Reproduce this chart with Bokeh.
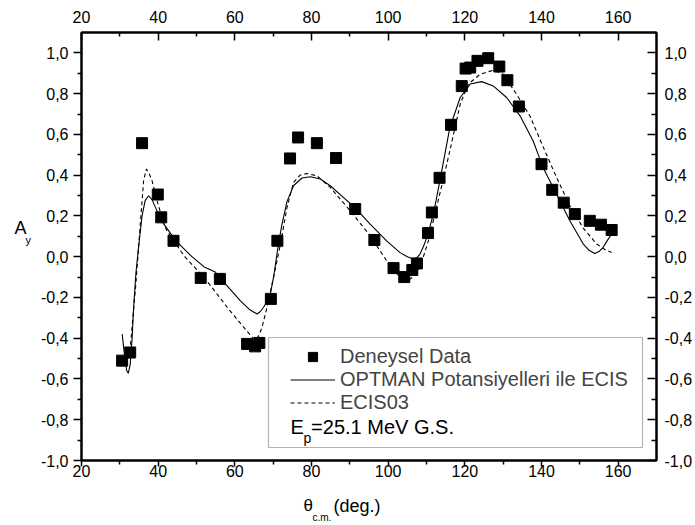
from bokeh.plotting import figure
from bokeh.models import (Range1d, LinearAxis, FixedTicker, CustomJSTickFormatter,
                          Legend, LegendItem, BoxAnnotation, Label)
from bokeh.layouts import row, column
from bokeh.embed import file_html
from bokeh.resources import INLINE

# ---------------- data ----------------
exp_x = [30.6, 32.7, 35.8, 39.9, 40.8, 44.0, 51.1, 56.1, 63.2, 65.3, 66.4, 69.4,
         71.1, 74.4, 76.5, 81.4, 86.4, 91.4, 96.4, 101.4, 104.2, 106.3, 107.5,
         110.4, 111.4, 113.4, 116.4, 119.2, 120.2, 121.4, 123.3, 126.1, 129.0,
         131.1, 134.1, 140.0, 142.8, 145.8, 148.7, 152.6, 155.5, 158.3]
exp_y = [-0.51, -0.47, 0.557, 0.305, 0.193, 0.078, -0.104, -0.109, -0.428, -0.44,
         -0.423, -0.207, 0.078, 0.482, 0.585, 0.557, 0.484, 0.234, 0.082, -0.056,
         -0.10, -0.065, -0.033, 0.116, 0.217, 0.387, 0.647, 0.837, 0.923, 0.928,
         0.961, 0.974, 0.933, 0.866, 0.737, 0.454, 0.328, 0.265, 0.209, 0.176,
         0.157, 0.131]

optman_x = [30.6, 31.2, 31.8, 32.2, 32.7, 33.2, 33.6, 34.2, 34.9, 35.8, 36.6, 37.5,
            38.4, 39.3, 40.5, 41.5, 44.5, 48.8, 52.0, 54.9, 56.2, 58.8, 61.4, 64.0,
            65.8, 66.6, 67.5, 68.4, 69.2, 70.2, 71.2, 72.2, 73.6, 75.3, 77.5, 79.7,
            82.3, 84.9, 88.3, 91.4, 95.3, 99.6, 103.1, 105.0, 106.6, 107.5, 108.3,
            109.2, 110.1, 111.8, 113.5, 116.1, 118.8, 121.4, 124.4, 127.4, 130.9,
            134.4, 137.8, 140.4, 143.9, 147.4, 150.9, 152.5, 153.9, 155.0, 156.1,
            157.2, 158.3]
optman_y = [-0.38, -0.48, -0.56, -0.572, -0.53, -0.40, -0.25, -0.08, 0.05, 0.20,
            0.275, 0.299, 0.28, 0.242, 0.19, 0.16, 0.08, 0.0, -0.05, -0.075, -0.105,
            -0.16, -0.216, -0.262, -0.281, -0.27, -0.248, -0.22, -0.19, -0.09, 0.04,
            0.15, 0.27, 0.348, 0.386, 0.392, 0.381, 0.348, 0.291, 0.239, 0.16, 0.078,
            0.02, 0.0, -0.011, -0.005, 0.013, 0.05, 0.095, 0.209, 0.373, 0.634, 0.781,
            0.847, 0.859, 0.838, 0.781, 0.691, 0.569, 0.438, 0.307, 0.176, 0.062,
            0.03, 0.016, 0.025, 0.046, 0.08, 0.111]

ecis_x = [32.3, 32.8, 33.4, 34.1, 34.8, 35.4, 36.2, 36.9, 37.6, 38.4, 39.7, 41.5,
          42.3, 45.8, 47.1, 51.9, 54.0, 58.0, 62.3, 64.3, 65.3, 66.2, 67.1, 68.4,
          70.1, 71.9, 73.6, 75.3, 77.0, 78.8, 81.4, 84.9, 90.1, 95.3, 99.6, 101.4,
          103.5, 105.3, 106.8, 108.3, 110.5, 112.2, 114.0, 116.1, 118.8, 120.9,
          124.0, 127.4, 130.0, 133.5, 137.0, 140.4, 143.9, 147.4, 150.9, 154.4,
          156.5, 158.3]
ecis_y = [-0.50, -0.43, -0.30, -0.15, 0.02, 0.176, 0.373, 0.43, 0.41, 0.373, 0.275,
          0.16, 0.127, 0.03, -0.003, -0.101, -0.15, -0.248, -0.346, -0.39, -0.41,
          -0.39, -0.346, -0.248, -0.101, 0.062, 0.24, 0.364, 0.40, 0.408, 0.397,
          0.34, 0.225, 0.103, -0.02, -0.069, -0.105, -0.115, -0.095, -0.052, 0.078,
          0.209, 0.35, 0.52, 0.749, 0.847, 0.895, 0.915, 0.895, 0.797, 0.69, 0.54,
          0.39, 0.25, 0.14, 0.062, 0.035, 0.021]

x_ticks = [20, 40, 60, 80, 100, 120, 140, 160]
x_minor = [30, 50, 70, 90, 110, 130, 150]
x_tick_labels = ["20", "40", "60", "80", "100", "120", "140", "160"]
y_ticks = [-1.0, -0.8, -0.6, -0.4, -0.2, 0.0, 0.2, 0.4, 0.6, 0.8, 1.0]
y_minor = [-0.9, -0.7, -0.5, -0.3, -0.1, 0.1, 0.3, 0.5, 0.7, 0.9]
y_tick_labels = ["-1,0", "-0,8", "-0,6", "-0,4", "-0,2", "0,0", "0,2", "0,4",
                 "0,6", "0,8", "1,0"]

legend_labels = ["Deneysel Data", "OPTMAN Potansiyelleri ile ECIS", "ECIS03"]

FONT = "Liberation Sans"
LW = 36    # width of the strip holding the y title
BH = 35    # height of the strip holding the x title

# ---------------- main figure ----------------
p = figure(width=695 - LW, height=525 - BH, output_backend="svg",
           toolbar_location=None,
           x_range=Range1d(20, 170), y_range=Range1d(-1.0, 1.1),
           x_axis_location=None, y_axis_location=None,
           min_border_left=81 - LW, min_border_right=38, min_border_top=32,
           min_border_bottom=30)
p.xgrid.visible = False
p.ygrid.visible = False
p.outline_line_color = "black"
p.outline_line_width = 2
p.background_fill_color = "white"
p.border_fill_color = "white"

code = """
let best = 0;
for (let i = 0; i < tv.length; i++) {
  if (Math.abs(tv[i] - tick) < Math.abs(tv[best] - tick)) best = i;
}
return tl[best];
"""
xfmt = CustomJSTickFormatter(args=dict(tv=x_ticks, tl=x_tick_labels), code=code)
yfmt = CustomJSTickFormatter(args=dict(tv=y_ticks, tl=y_tick_labels), code=code)


def style(ax, tin, tout, min_in, min_out, standoff):
    ax.axis_line_width = 2
    ax.axis_line_color = "black"
    ax.major_tick_line_width = 1.5
    ax.minor_tick_line_width = 1.5
    ax.major_tick_in = tin
    ax.major_tick_out = tout
    ax.minor_tick_in = min_in
    ax.minor_tick_out = min_out
    ax.major_label_standoff = standoff
    ax.major_label_text_font = FONT
    ax.major_label_text_font_size = "16px"
    ax.major_label_text_color = "black"


bottom = LinearAxis(ticker=FixedTicker(ticks=x_ticks, minor_ticks=x_minor), formatter=xfmt)
style(bottom, 0, 6, 0, 4, -2)
top = LinearAxis(ticker=FixedTicker(ticks=x_ticks, minor_ticks=x_minor), formatter=xfmt)
style(top, 8, 0, 4, 0, 10)
left = LinearAxis(ticker=FixedTicker(ticks=y_ticks, minor_ticks=y_minor), formatter=yfmt)
style(left, 0, 8, 0, 4, 5)
right = LinearAxis(ticker=FixedTicker(ticks=y_ticks, minor_ticks=y_minor), formatter=yfmt)
style(right, 9, 0, 5, 0, 8)
p.add_layout(bottom, "below")
p.add_layout(top, "above")
p.add_layout(left, "left")
p.add_layout(right, "right")

# ---------------- glyphs ----------------
r_solid = p.line(optman_x, optman_y, line_color="black", line_width=1.1)
r_dash = p.line(ecis_x, ecis_y, line_color="black", line_width=1.1, line_dash="4 3")
r_pts = p.scatter(exp_x, exp_y, marker="square", size=11, fill_color="black",
                  line_color="black")

# ---------------- legend ----------------
box = BoxAnnotation(left=187, right=561, bottom=13, top=123,
                    left_units="screen", right_units="screen",
                    bottom_units="screen", top_units="screen",
                    fill_alpha=0, line_color="black", line_width=1.2)
p.add_layout(box)

legend = Legend(items=[LegendItem(label=legend_labels[0], renderers=[r_pts]),
                       LegendItem(label=legend_labels[1], renderers=[r_solid]),
                       LegendItem(label=legend_labels[2], renderers=[r_dash])],
                location=(209, 46), padding=0, margin=0, spacing=0,
                label_height=23, glyph_height=23, glyph_width=45,
                label_standoff=5, label_text_font=FONT,
                label_text_font_size="20px", background_fill_alpha=0,
                border_line_alpha=0)
p.add_layout(legend, "center")


def lab(fig, text, x, y, size, units="screen"):
    fig.add_layout(Label(x=x, y=y, x_units=units, y_units=units, text=text,
                         text_font=FONT, text_font_size=size, text_color="black",
                         text_baseline="alphabetic", text_align="left"))


# E_p row inside the legend box (placed in data units of the plot)
lab(p, "E", 74.5, -0.838, "20px", "data")
lab(p, "p", 77.9, -0.892, "14px", "data")
lab(p, "=25.1 MeV G.S.", 79.9, -0.838, "20px", "data")


def strip(w, h):
    f = figure(width=w, height=h, output_backend="svg", toolbar_location=None,
               x_range=Range1d(0, w), y_range=Range1d(0, h),
               x_axis_location=None, y_axis_location=None,
               min_border=0, min_border_left=0, min_border_right=0,
               min_border_top=0, min_border_bottom=0)
    f.xgrid.visible = False
    f.ygrid.visible = False
    f.outline_line_color = None
    f.background_fill_color = "white"
    f.border_fill_color = "white"
    return f


# y-axis title A_y (strip at left, full height)
fl = strip(LW, 525)
lab(fl, "A", 14, 298, "18px")
lab(fl, "y", 25, 286, "11px")

# x-axis title theta_c.m.(deg.) (strip under the main plot)
fb = strip(695 - LW, BH)
lab(fb, "θ", 222, 20, "17px")
lab(fb, "c.m.", 231, 8, "10px")
lab(fb, "(deg.)", 252, 20, "18px")

layout = row(fl, column(p, fb, spacing=0), spacing=0)

open("out.html", "w").write(file_html(layout, INLINE))
